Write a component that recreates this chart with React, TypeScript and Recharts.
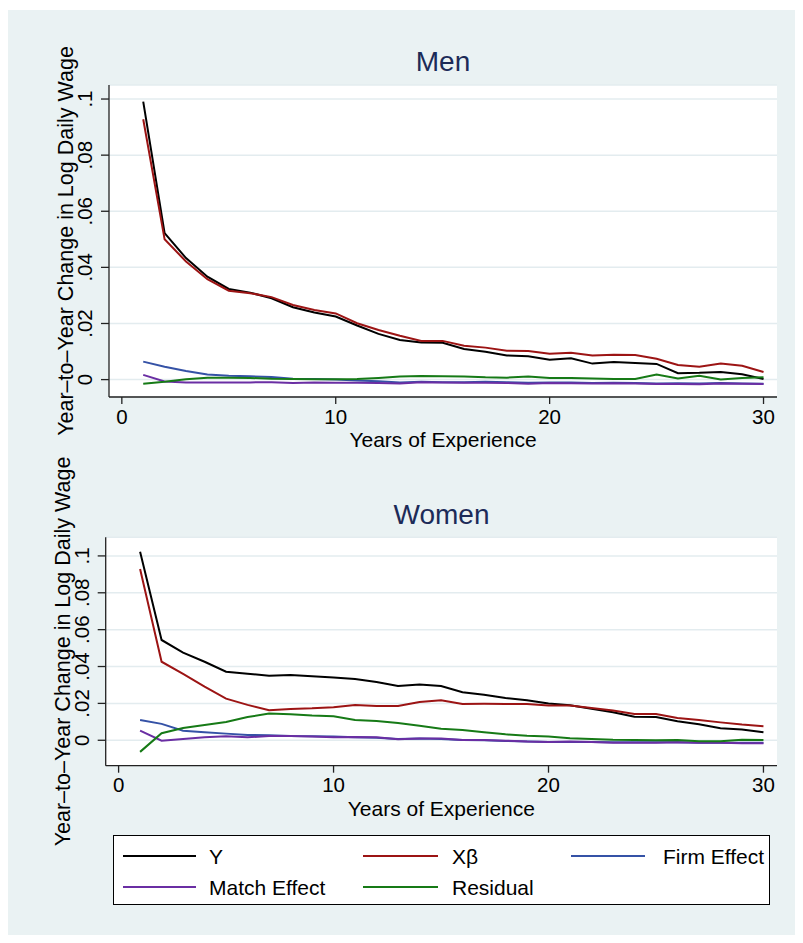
import React from 'react';
import { LineChart, Line, XAxis, YAxis, CartesianGrid } from 'recharts';

const years = [1, 2, 3, 4, 5, 6, 7, 8, 9, 10, 11, 12, 13, 14, 15, 16, 17, 18, 19, 20, 21, 22, 23, 24, 25, 26, 27, 28, 29, 30];

// Men
const menY = [0.0991, 0.0522, 0.0433, 0.0367, 0.0323, 0.031, 0.029, 0.0258, 0.0239, 0.0225, 0.0193, 0.0163, 0.0141, 0.0132, 0.0131, 0.0109, 0.0099, 0.0086, 0.0083, 0.0071, 0.0076, 0.0057, 0.0063, 0.0059, 0.0056, 0.0023, 0.0024, 0.0027, 0.0019, 0.0002];
const menXb = [0.0928, 0.05, 0.0421, 0.0358, 0.0317, 0.0308, 0.0294, 0.0266, 0.0248, 0.0236, 0.0201, 0.0177, 0.0156, 0.0138, 0.0138, 0.0121, 0.0114, 0.0103, 0.0102, 0.0092, 0.0096, 0.0086, 0.0089, 0.0088, 0.0074, 0.0052, 0.0046, 0.0057, 0.0049, 0.0027];
const menFirm = [0.0064, 0.0046, 0.0031, 0.0018, 0.0014, 0.0012, 0.0009, 0.0003, 0.0002, 0.0, -0.0003, -0.0006, -0.001, -0.0008, -0.0009, -0.0009, -0.0008, -0.0009, -0.0011, -0.001, -0.001, -0.0012, -0.0011, -0.0012, -0.0014, -0.0013, -0.0014, -0.0012, -0.0014, -0.0015];
const menMatch = [0.0017, -0.0007, -0.001, -0.001, -0.001, -0.001, -0.0009, -0.0012, -0.001, -0.0011, -0.0011, -0.0012, -0.0014, -0.0009, -0.001, -0.0011, -0.0011, -0.0012, -0.0015, -0.0012, -0.0013, -0.0014, -0.0013, -0.0014, -0.0016, -0.0016, -0.0017, -0.0014, -0.0015, -0.0016];
const menResid = [-0.0015, -0.0008, 0.0001, 0.0007, 0.0007, 0.0006, 0.0003, 0.0002, 0.0001, 0.0001, 0.0002, 0.0006, 0.0011, 0.0013, 0.0012, 0.0011, 0.0008, 0.0007, 0.0011, 0.0006, 0.0006, 0.0004, 0.0002, 0.0002, 0.0018, 0.0004, 0.0014, 0.0, 0.0006, 0.0008];

// Women
const womenY = [0.1023, 0.0544, 0.0475, 0.0426, 0.0372, 0.0361, 0.035, 0.0354, 0.0347, 0.0341, 0.0332, 0.0316, 0.0294, 0.0303, 0.0294, 0.026, 0.0247, 0.0229, 0.0217, 0.02, 0.019, 0.0171, 0.0152, 0.0128, 0.0126, 0.0103, 0.0087, 0.0065, 0.0059, 0.0043];
const womenXb = [0.0929, 0.0426, 0.036, 0.0291, 0.0226, 0.0192, 0.0163, 0.017, 0.0173, 0.0179, 0.0191, 0.0186, 0.0186, 0.0208, 0.0217, 0.0197, 0.0198, 0.0197, 0.0197, 0.0188, 0.0188, 0.0175, 0.0161, 0.0143, 0.0143, 0.0121, 0.011, 0.0097, 0.0085, 0.0076];
const womenFirm = [0.011, 0.0089, 0.0052, 0.0043, 0.0036, 0.0029, 0.0027, 0.0023, 0.0022, 0.002, 0.0016, 0.0014, 0.0007, 0.0009, 0.0007, 0.0002, 0.0, -0.0004, -0.0007, -0.0009, -0.0009, -0.0009, -0.0011, -0.0011, -0.0011, -0.0011, -0.0013, -0.0013, -0.0014, -0.0014];
const womenMatch = [0.0052, -0.0002, 0.0007, 0.0016, 0.0022, 0.0016, 0.0023, 0.0023, 0.002, 0.0016, 0.0018, 0.0016, 0.0005, 0.0009, 0.0009, 0.0002, 0.0002, -0.0002, -0.0007, -0.0009, -0.0007, -0.0009, -0.0013, -0.0013, -0.0013, -0.0011, -0.0013, -0.0013, -0.0016, -0.0016];
const womenResid = [-0.0063, 0.0038, 0.0067, 0.0083, 0.0099, 0.0126, 0.0145, 0.0141, 0.0134, 0.013, 0.011, 0.0105, 0.0094, 0.0079, 0.0063, 0.0056, 0.0043, 0.0032, 0.0025, 0.0021, 0.0011, 0.0007, 0.0003, 0.0002, 0.0, 0.0002, -0.0006, -0.0006, 0.0003, 0.0002];

const xTicks = [0, 10, 20, 30];
const yTicks = [0, 0.02, 0.04, 0.06, 0.08, 0.1];
const yTickLabels = ['0', '.02', '.04', '.06', '.08', '.1'];

const seriesNames = ['Y', 'Xβ', 'Firm Effect', 'Match Effect', 'Residual'];
const seriesKeys = ['y', 'xb', 'firm', 'match', 'resid'];
const seriesColors = ['#000000', '#9c1414', '#3552a6', '#6a2ea3', '#167a16'];

const FONT = '"Liberation Sans", Arial, Helvetica, sans-serif';
const BG = '#eaf2f3';

function buildRows(a: number[], b: number[], c: number[], d: number[], e: number[]) {
  return years.map((yr, i) => ({ year: yr, y: a[i], xb: b[i], firm: c[i], match: d[i], resid: e[i] }));
}

const menRows = buildRows(menY, menXb, menFirm, menMatch, menResid);
const womenRows = buildRows(womenY, womenXb, womenFirm, womenMatch, womenResid);

// rotated tick labels (Stata style)
const YTick = (props: any) => {
  const { x, y, payload } = props;
  const idx = yTicks.indexOf(payload.value);
  return (
    <text transform={`translate(${x},${y}) rotate(-90)`} textAnchor="middle" fontSize={20.5} fontFamily={FONT} fill="#000">
      {idx >= 0 ? yTickLabels[idx] : payload.value}
    </text>
  );
};

const YTitle = (props: any) => {
  const vb = props.viewBox;
  const cx = vb.x + vb.width - 36;
  const cy = vb.y + vb.height / 2;
  return (
    <text transform={`translate(${cx},${cy}) rotate(-90)`} textAnchor="middle" fontSize={21.5} fontFamily={FONT} fill="#000">
      Year–to–Year Change in Log Daily Wage
    </text>
  );
};

const XTitle = (props: any) => {
  const vb = props.viewBox;
  return (
    <text x={vb.x + vb.width / 2} y={vb.y + 50} textAnchor="middle" fontSize={21} fontFamily={FONT} fill="#000">
      Years of Experience
    </text>
  );
};

function Panel({ rows, yDomain, margin, height }: { rows: any[]; yDomain: number[]; margin: any; height: number }) {
  return (
    <LineChart width={787} height={height} data={rows} margin={margin}>
      <CartesianGrid vertical={false} stroke="#e3ecef" strokeWidth={1.5} fill="#ffffff" />
      <XAxis
        dataKey="year"
        type="number"
        domain={[-0.6, 30.63]}
        ticks={xTicks}
        allowDataOverflow
        height={60}
        tickSize={7}
        tickMargin={5}
        stroke="#222"
        strokeWidth={1.3}
        tick={{ fontSize: 20.5, fontFamily: FONT, fill: '#000' }}
        label={{ content: XTitle }}
      />
      <YAxis
        type="number"
        domain={yDomain}
        ticks={yTicks}
        allowDataOverflow
        width={60}
        tickSize={8}
        tickMargin={9}
        stroke="#222"
        strokeWidth={1.3}
        tick={<YTick />}
        label={{ content: YTitle }}
      />
      {seriesKeys.map((k, i) => (
        <Line
          key={k}
          type="linear"
          dataKey={k}
          name={seriesNames[i]}
          stroke={seriesColors[i]}
          strokeWidth={2}
          dot={false}
          activeDot={false}
          isAnimationActive={false}
        />
      ))}
    </LineChart>
  );
}

function LegendBox() {
  const rowsY = [20, 51];
  const cols = [
    { x1: 9, x2: 82, tx: 95 },
    { x1: 249, x2: 324, tx: 338 },
    { x1: 457, x2: 531, tx: 549 },
  ];
  return (
    <svg width={657} height={70} style={{ position: 'absolute', left: 105, top: 825, background: '#fff', border: '1.5px solid #000', boxSizing: 'border-box' }}>
      {seriesNames.map((name, i) => {
        const r = Math.floor(i / 3);
        const c = i % 3;
        const cy = rowsY[r];
        return (
          <g key={name}>
            <line x1={cols[c].x1} x2={cols[c].x2} y1={cy} y2={cy} stroke={seriesColors[i]} strokeWidth={2} />
            <text x={cols[c].tx} y={cy + 7.5} fontSize={21} fontFamily={FONT} fill="#000">{name}</text>
          </g>
        );
      })}
    </svg>
  );
}

export default function App() {
  const titleStyle: React.CSSProperties = {
    position: 'absolute',
    fontFamily: FONT,
    fontSize: 28,
    lineHeight: '28px',
    color: '#1c2b58',
    textAlign: 'center',
  };
  return (
    <div style={{ position: 'relative', width: 787, height: 925, marginTop: 2, background: BG, overflow: 'hidden' }}>
      <div style={{ ...titleStyle, left: 101, width: 668, top: 38 }}>Men</div>
      <div style={{ position: 'absolute', left: 0, top: 0 }}>
        <Panel rows={menRows} yDomain={[-0.0062, 0.105]} height={460} margin={{ top: 75, right: 18, left: 41, bottom: 13 }} />
      </div>
      <div style={{ ...titleStyle, left: 98, width: 671, top: 490.5 }}>Women</div>
      <div style={{ position: 'absolute', left: 0, top: 440 }}>
        <Panel rows={womenRows} yDomain={[-0.0138, 0.1101]} height={400} margin={{ top: 87.3, right: 18, left: 37.7, bottom: 24.3 }} />
      </div>
      <LegendBox />
    </div>
  );
}
